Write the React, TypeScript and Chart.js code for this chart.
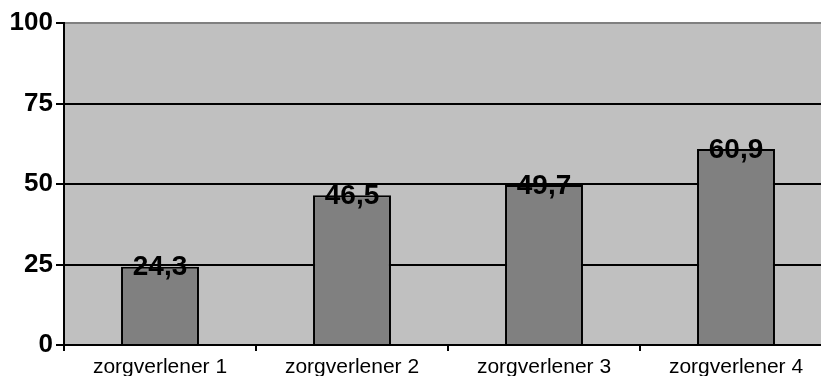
import { useEffect, useRef } from 'react';
import { Chart, registerables } from 'chart.js';

Chart.register(...registerables);

const categories = ['zorgverlener 1', 'zorgverlener 2', 'zorgverlener 3', 'zorgverlener 4'];
const scores = [24.3, 46.5, 49.7, 60.9];
const yTicks = [0, 25, 50, 75, 100];

const FONT = '"Liberation Sans", Arial, Helvetica, sans-serif';
const CANVAS_W = 832;
const CANVAS_H = 380;

// Grey plot background behind the bars
const plotBackground = {
  id: 'plotBackground',
  beforeDraw(chart: any) {
    const { ctx, chartArea } = chart;
    ctx.save();
    ctx.fillStyle = '#c0c0c0';
    ctx.fillRect(chartArea.left, chartArea.top, chartArea.right - chartArea.left, chartArea.bottom - chartArea.top);
    ctx.restore();
  },
};

// Value written on top of each bar, with a decimal comma
const valueLabels = {
  id: 'valueLabels',
  afterDatasetsDraw(chart: any) {
    const { ctx } = chart;
    const meta = chart.getDatasetMeta(0);
    const values = chart.data.datasets[0].data as number[];
    ctx.save();
    ctx.font = `bold 28px ${FONT}`;
    ctx.fillStyle = '#000';
    ctx.textAlign = 'center';
    ctx.textBaseline = 'middle';
    meta.data.forEach((bar: any, i: number) => {
      ctx.fillText(values[i].toFixed(1).replace('.', ','), bar.x, bar.y + 1);
    });
    ctx.restore();
  },
};

export default function App() {
  const canvasRef = useRef<HTMLCanvasElement | null>(null);

  useEffect(() => {
    const canvas = canvasRef.current;
    if (!canvas) return;
    const chart = new Chart(canvas, {
      type: 'bar',
      data: {
        labels: categories,
        datasets: [
          {
            data: scores,
            backgroundColor: '#808080',
            borderColor: '#000',
            borderWidth: 2,
            barPercentage: 0.406,
            categoryPercentage: 1,
          },
        ],
      },
      options: {
        responsive: false,
        animation: false,
        devicePixelRatio: 1,
        layout: { padding: { top: 23, left: 0, right: 0, bottom: 0 } },
        plugins: {
          legend: { display: false },
          tooltip: { enabled: false },
          title: { display: false },
        },
        scales: {
          x: {
            offset: true,
            grid: {
              offset: true,
              drawOnChartArea: false,
              drawTicks: true,
              tickLength: 6,
              color: '#000',
              lineWidth: 2,
            },
            border: { color: '#000', width: 2 },
            ticks: {
              color: '#000',
              padding: 4,
              maxRotation: 0,
              autoSkip: false,
              font: { family: FONT, size: 21, weight: 'normal' },
            },
            afterFit(scale: any) {
              scale.height = CANVAS_H - 345;
            },
          },
          y: {
            min: 0,
            max: 100,
            afterBuildTicks(scale: any) {
              scale.ticks = yTicks.map((v) => ({ value: v }));
            },
            grid: {
              color: (c: any) => (c.tick && c.tick.value === 100 ? '#808080' : '#000'),
              tickColor: '#000',
              lineWidth: 2,
              tickLength: 8,
            },
            border: { color: '#000', width: 2 },
            ticks: {
              color: '#000',
              padding: 3,
              font: { family: FONT, size: 26, weight: 'bold' },
            },
            afterFit(scale: any) {
              scale.width = 64;
            },
          },
        },
      },
      plugins: [plotBackground, valueLabels],
    });
    return () => chart.destroy();
  }, []);

  return (
    <div
      style={{
        position: 'fixed',
        left: 0,
        top: 0,
        width: 821,
        height: 376,
        overflow: 'hidden',
        background: '#fff',
      }}
    >
      <canvas
        ref={canvasRef}
        width={CANVAS_W}
        height={CANVAS_H}
        style={{ display: 'block', width: CANVAS_W, height: CANVAS_H }}
      />
    </div>
  );
}
